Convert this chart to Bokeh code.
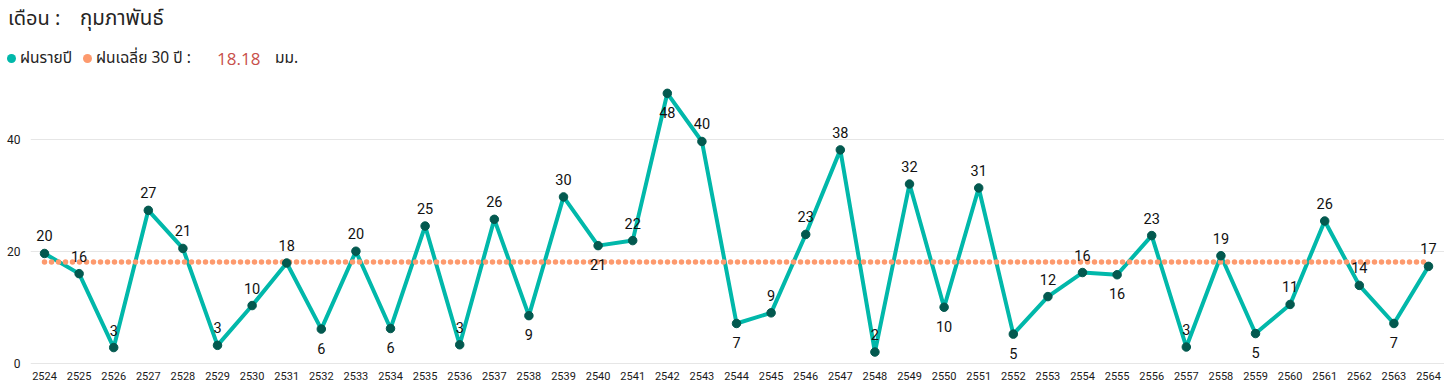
from bokeh.plotting import figure
from bokeh.models import Range1d, FixedTicker, ColumnDataSource, Div
from bokeh.layouts import column
from bokeh.core.properties import value
from bokeh.embed import file_html
from bokeh.resources import INLINE

# ---- data ----
title_prefix = "เดือน :"
month_name = "กุมภาพันธ์"
series_name = "ฝนรายปี"
avg_name = "ฝนเฉลี่ย 30 ปี :"
avg_value = 18.18
unit_name = "มม."

years = [2524, 2525, 2526, 2527, 2528, 2529, 2530, 2531, 2532, 2533,
         2534, 2535, 2536, 2537, 2538, 2539, 2540, 2541, 2542, 2543,
         2544, 2545, 2546, 2547, 2548, 2549, 2550, 2551, 2552, 2553,
         2554, 2555, 2556, 2557, 2558, 2559, 2560, 2561, 2562, 2563, 2564]
rain = [19.7, 16.1, 2.9, 27.4, 20.6, 3.3, 10.4, 18.0, 6.2, 20.1,
        6.3, 24.6, 3.4, 25.8, 8.6, 29.8, 21.1, 22.0, 48.3, 39.7,
        7.2, 9.1, 23.1, 38.2, 2.1, 32.1, 10.1, 31.4, 5.3, 12.0,
        16.3, 15.9, 22.9, 3.0, 19.3, 5.4, 10.6, 25.5, 14.0, 7.2, 17.4]
y_ticks = [0, 20, 40]

# ---- styles ----
TEAL = "#01B8AA"
DOT = "#03594F"
ORANGE = "#FD9A6E"
TXT = "#252423"
THAI = "'Noto Sans Thai', 'Noto Sans', sans-serif"
W, H = 1444, 388
HEADER_H = 77

n = len(rain)
labels = [f"{v:.0f}" for v in rain]
offsets = []
for i, v in enumerate(rain):
    prev_v = rain[i - 1] if i > 0 else None
    next_v = rain[i + 1] if i < n - 1 else None
    local_min = prev_v is not None and next_v is not None and v < prev_v and v < next_v
    below = (local_min and v >= 4) or v > 45
    offsets.append(19 if below else -17.5)

src = ColumnDataSource(dict(x=years, y=rain, label=labels, yoff=offsets))
avg_src = ColumnDataSource(dict(x=years, y=[avg_value] * n))


def span(txt, left, top, size, color=TXT, font=THAI):
    return (f'<span style="position:absolute;left:{left}px;top:{top}px;'
            f'font-family:{font};font-size:{size}px;line-height:1;color:{color};'
            f'white-space:nowrap;">{txt}</span>')


def dot(left, top, color):
    return (f'<span style="position:absolute;left:{left}px;top:{top}px;width:9px;'
            f'height:9px;border-radius:50%;background:{color};"></span>')


header_html = (
    f'<div style="position:relative;width:{W}px;height:{HEADER_H}px;">'
    + span(title_prefix, 8, 8.5, 20)
    + span(month_name, 80, 8.5, 20.5)
    + dot(7, 54, TEAL)
    + span(series_name, 20, 50.5, 15.5)
    + dot(82.5, 54, ORANGE)
    + span(avg_name, 96, 50.5, 15.5)
    + span(f"{avg_value:.2f}", 217, 50, 17, color="#C8504B", font="'Open Sans', sans-serif")
    + span(unit_name, 275, 50.5, 15.5)
    + '</div>'
)
header = Div(text=header_html, width=W, height=HEADER_H, margin=0)

p = figure(width=W, height=H - HEADER_H, output_backend="svg", toolbar_location=None,
           x_range=Range1d(2523.595, 2564.462), y_range=Range1d(-0.125, 51.125),
           min_border_left=30, min_border_right=0, min_border_top=0,
           min_border_bottom=24, margin=0)
p.outline_line_color = None
p.background_fill_color = "white"
p.border_fill_color = "white"
p.xgrid.grid_line_color = None
p.ygrid.grid_line_color = "#E6E6E6"
p.ygrid.grid_line_width = 1

p.yaxis.ticker = FixedTicker(ticks=y_ticks)
p.xaxis.ticker = FixedTicker(ticks=years)
for ax in (p.xaxis, p.yaxis):
    ax.axis_line_color = None
    ax.major_tick_line_color = None
    ax.minor_tick_line_color = None
    ax.major_tick_out = 0
    ax.major_tick_in = 0
    ax.minor_tick_out = 0
    ax.minor_tick_in = 0
    ax.axis_label_standoff = 0
    ax.major_label_text_font = "Roboto"
    ax.major_label_text_color = "#1a1a1a"
p.xaxis.major_label_text_font_size = "11px"
p.xaxis.major_label_standoff = 7
p.yaxis.major_label_text_font_size = "12px"
p.yaxis.major_label_standoff = 10

p.line("x", "y", source=src, line_color=TEAL, line_width=4)
p.line("x", "y", source=avg_src, line_color=ORANGE, line_width=5.5,
       line_dash="0 7", line_cap="round")
p.scatter("x", "y", source=src, size=8.5, fill_color=DOT, line_color=DOT)
p.text("x", "y", text="label", source=src, y_offset="yoff",
       text_align="center", text_baseline="middle",
       text_font=value("Roboto"), text_font_size="14.5px", text_color="#111111")

layout = column(header, p, spacing=0, margin=0)
open("out.html", "w").write(file_html(layout, INLINE))
